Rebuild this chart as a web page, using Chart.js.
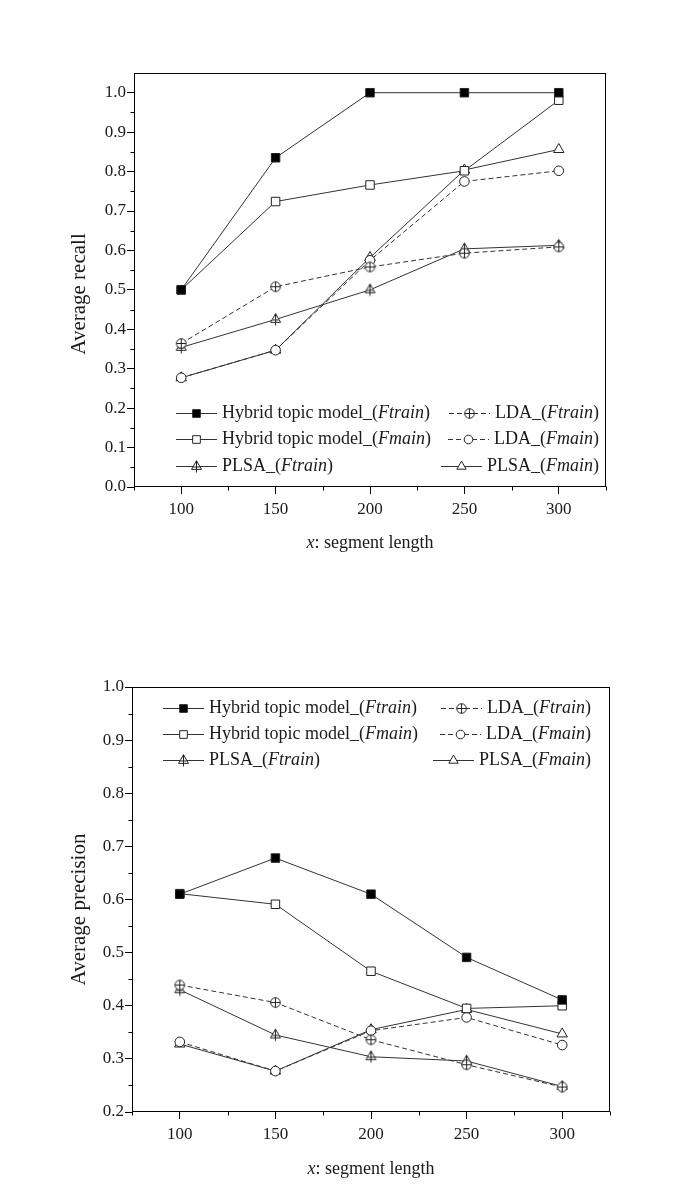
<!DOCTYPE html>
<html>
<head>
<meta charset="utf-8">
<script src="https://cdn.jsdelivr.net/npm/chart.js@4.4.0/dist/chart.umd.min.js"></script>
<style>
  html, body { margin: 0; padding: 0; background: #ffffff; }
  body { width: 691px; height: 1198px; position: relative; overflow: hidden; }
  .wrap { position: absolute; left: 0; width: 691px; }
  canvas { display: block; }
</style>
</head>
<body>
<div class="wrap" style="top:0px;height:600px"><canvas id="recallChart" width="691" height="600"></canvas></div>
<div class="wrap" style="top:600px;height:598px"><canvas id="precisionChart" width="691" height="598"></canvas></div>
<script>
// ---------------- DATA ----------------
const segmentLengths = [100, 150, 200, 250, 300];
const xTickValues = [100, 150, 200, 250, 300];
const recallTickValues = [0.0, 0.1, 0.2, 0.3, 0.4, 0.5, 0.6, 0.7, 0.8, 0.9, 1.0];
const precisionTickValues = [0.2, 0.3, 0.4, 0.5, 0.6, 0.7, 0.8, 0.9, 1.0];

const seriesLabels = [
  'Hybrid topic model_(Ftrain)',
  'LDA_(Ftrain)',
  'Hybrid topic model_(Fmain)',
  'LDA_(Fmain)',
  'PLSA_(Ftrain)',
  'PLSA_(Fmain)'
];

// Average recall
const recallHybridFtrain = [0.500, 0.835, 1.000, 1.000, 1.000];
const recallLdaFtrain    = [0.364, 0.508, 0.558, 0.593, 0.609];
const recallHybridFmain  = [0.500, 0.724, 0.766, 0.802, 0.981];
const recallLdaFmain     = [0.277, 0.347, 0.575, 0.775, 0.802];
const recallPlsaFtrain   = [0.354, 0.425, 0.500, 0.604, 0.613];
const recallPlsaFmain    = [0.277, 0.347, 0.582, 0.804, 0.856];

// Average precision
const precisionHybridFtrain = [0.610, 0.678, 0.610, 0.491, 0.411];
const precisionLdaFtrain    = [0.439, 0.406, 0.336, 0.289, 0.247];
const precisionHybridFmain  = [0.611, 0.591, 0.465, 0.395, 0.400];
const precisionLdaFmain     = [0.332, 0.277, 0.353, 0.378, 0.326];
const precisionPlsaFtrain   = [0.430, 0.345, 0.304, 0.296, 0.248];
const precisionPlsaFmain    = [0.328, 0.277, 0.355, 0.393, 0.347];

// ---------------- STYLE ----------------
const FONT = "'Liberation Serif', 'Times New Roman', serif";
const TEXT = '#1a1a1a';
const LINE = '#333333';
const MARK = '#222222';

function makeMarker(kind) {
  const c = document.createElement('canvas');
  c.width = 15; c.height = 15;
  const g = c.getContext('2d');
  const m = 7.5;
  g.strokeStyle = MARK; g.fillStyle = '#ffffff'; g.lineWidth = 1;
  if (kind === 'circlePlus') {
    g.beginPath(); g.arc(m, m, 4.8, 0, Math.PI * 2); g.fill(); g.stroke();
    g.beginPath();
    g.moveTo(m - 4.8, m); g.lineTo(m + 4.8, m);
    g.moveTo(m, m - 4.8); g.lineTo(m, m + 4.8);
    g.stroke();
  } else if (kind === 'trianglePlus') {
    g.beginPath();
    g.moveTo(m, m - 5.8); g.lineTo(m - 5, m + 2.9); g.lineTo(m + 5, m + 2.9); g.closePath();
    g.fill(); g.stroke();
    g.beginPath();
    g.moveTo(m, m - 5.8); g.lineTo(m, m + 6);
    g.moveTo(m - 3.2, m + 0.5); g.lineTo(m + 3.2, m + 0.5);
    g.stroke();
  }
  return c;
}
const circlePlus = makeMarker('circlePlus');
const trianglePlus = makeMarker('trianglePlus');

function pts(arr) { return segmentLengths.map((x, i) => ({ x: x, y: arr[i] })); }

function makeDatasets(v) {
  const base = { borderColor: LINE, borderWidth: 1, pointBorderColor: MARK, pointBorderWidth: 1, fill: false, tension: 0 };
  return [
    Object.assign({}, base, { label: seriesLabels[0], data: pts(v[0]), pointStyle: 'rect', pointRadius: 6, pointBackgroundColor: '#000000' }),
    Object.assign({}, base, { label: seriesLabels[1], data: pts(v[1]), borderDash: [5, 3], pointStyle: circlePlus, pointRadius: 5, pointBackgroundColor: '#ffffff' }),
    Object.assign({}, base, { label: seriesLabels[2], data: pts(v[2]), pointStyle: 'rect', pointRadius: 6, pointBackgroundColor: '#ffffff' }),
    Object.assign({}, base, { label: seriesLabels[3], data: pts(v[3]), borderDash: [5, 3], pointStyle: 'circle', pointRadius: 4.8, pointBackgroundColor: '#ffffff' }),
    Object.assign({}, base, { label: seriesLabels[4], data: pts(v[4]), pointStyle: trianglePlus, pointRadius: 5.8, pointBackgroundColor: '#ffffff' }),
    Object.assign({}, base, { label: seriesLabels[5], data: pts(v[5]), pointStyle: 'triangle', pointRadius: 6, pointBackgroundColor: '#ffffff' })
  ];
}

// ---------------- PLUGINS ----------------
const framePlugin = {
  id: 'frameAndMinor',
  afterDraw(chart, args, opts) {
    const ctx = chart.ctx, a = chart.chartArea;
    const xs = chart.scales.x, ys = chart.scales.y;
    ctx.save();
    ctx.strokeStyle = '#000'; ctx.lineWidth = 1;
    const L = Math.round(a.left) + 0.5, R = Math.round(a.right) - 0.5;
    const T = Math.round(a.top) + 0.5, B = Math.round(a.bottom) - 0.5;
    ctx.strokeRect(L, T, R - L, B - T);
    ctx.beginPath();
    (opts.xMinor || []).forEach(v => {
      const px = Math.round(xs.getPixelForValue(v)) + 0.5;
      ctx.moveTo(px, B); ctx.lineTo(px, B + 4);
    });
    (opts.yMinor || []).forEach(v => {
      const py = Math.round(ys.getPixelForValue(v)) + 0.5;
      ctx.moveTo(L, py); ctx.lineTo(L - 4, py);
    });
    ctx.stroke();
    ctx.restore();
  }
};

const axisTitlesPlugin = {
  id: 'axisTitles',
  afterDraw(chart, args, opts) {
    const ctx = chart.ctx, a = chart.chartArea;
    ctx.save();
    ctx.fillStyle = TEXT; ctx.textBaseline = 'middle'; ctx.textAlign = 'left';
    // x title with italic "x"
    const fI = 'italic ' + opts.xSize + 'px ' + FONT, fN = opts.xSize + 'px ' + FONT;
    ctx.font = fI; const w1 = ctx.measureText(opts.xItalic).width;
    ctx.font = fN; const w2 = ctx.measureText(opts.xRest).width;
    const x = (a.left + a.right) / 2 - (w1 + w2) / 2;
    const y = a.bottom + opts.xOffset;
    ctx.font = fI; ctx.fillText(opts.xItalic, x, y);
    ctx.font = fN; ctx.fillText(opts.xRest, x + w1, y);
    // y title, rotated
    ctx.font = opts.ySize + 'px ' + FONT;
    ctx.translate(opts.yX, (a.top + a.bottom) / 2 + opts.yShift);
    ctx.rotate(-Math.PI / 2);
    ctx.textAlign = 'center';
    ctx.fillText(opts.yText, 0, 0);
    ctx.restore();
  }
};

function labelParts(s) {
  const m = s.match(/^(.*\()(.*)(\).*)$/);
  return m ? [[m[1], false], [m[2], true], [m[3], false]] : [[s, false]];
}

const legendPlugin = {
  id: 'boxLegend',
  afterDatasetsDraw(chart, args, opts) {
    const ctx = chart.ctx, a = chart.chartArea;
    const dsets = chart.data.datasets;
    ctx.save();
    dsets.forEach((ds, i) => {
      const row = Math.floor(i / 2), col = i % 2;
      const y = a.top + opts.rows[row];
      const parts = labelParts(ds.label);
      let tw = 0;
      parts.forEach(p => { ctx.font = (p[1] ? 'italic ' : '') + opts.size + 'px ' + FONT; tw += ctx.measureText(p[0]).width; });
      let lx0, tx;
      if (col === 0) {
        lx0 = a.left + opts.col1;
        tx = lx0 + opts.lineLen + opts.gap;
      } else {
        tx = a.right + opts.col2Right - tw;
        lx0 = tx - opts.gap - opts.lineLen;
      }
      const ly = Math.round(y) + 0.5;
      ctx.strokeStyle = ds.borderColor; ctx.lineWidth = 1;
      ctx.setLineDash(ds.borderDash || []);
      ctx.beginPath(); ctx.moveTo(lx0, ly); ctx.lineTo(lx0 + opts.lineLen, ly); ctx.stroke();
      ctx.setLineDash([]);
      ctx.fillStyle = ds.pointBackgroundColor; ctx.strokeStyle = ds.pointBorderColor;
      Chart.helpers.drawPoint(ctx, { pointStyle: ds.pointStyle, rotation: 0, radius: ds.pointRadius * 0.9, borderWidth: 1 }, lx0 + opts.lineLen / 2, ly);
      ctx.fillStyle = TEXT; ctx.textBaseline = 'middle'; ctx.textAlign = 'left';
      let x = tx;
      parts.forEach(p => {
        ctx.font = (p[1] ? 'italic ' : '') + opts.size + 'px ' + FONT;
        ctx.fillText(p[0], x, y);
        x += ctx.measureText(p[0]).width;
      });
    });
    ctx.restore();
  }
};

function makeOptions(cfg) {
  return {
    responsive: false,
    animation: false,
    events: [],
    layout: { padding: cfg.padding },
    plugins: {
      legend: { display: false },
      tooltip: { enabled: false },
      frameAndMinor: { xMinor: [75, 125, 175, 225, 275, 325], yMinor: cfg.yMinor },
      axisTitles: { xItalic: 'x', xRest: ': segment length', xSize: 18, xOffset: cfg.xTitleOffset,
                    yText: cfg.yTitle, ySize: 21, yX: 79, yShift: cfg.yTitleShift },
      boxLegend: cfg.legend
    },
    scales: {
      x: {
        type: 'linear', min: 75, max: 325,
        afterBuildTicks: s => { s.ticks = xTickValues.map(v => ({ value: v })); },
        afterFit: s => { s.height = 80; },
        grid: { drawOnChartArea: false, drawTicks: true, tickLength: 7, color: '#000', tickColor: '#000' },
        border: { display: false },
        ticks: { font: { family: FONT, size: 17 }, color: TEXT, padding: 5, maxRotation: 0, callback: v => String(v) },
        title: { display: false }
      },
      y: {
        type: 'linear', min: cfg.yMin, max: cfg.yMax,
        afterBuildTicks: s => { s.ticks = cfg.yTicks.map(v => ({ value: v })); },
        afterFit: s => { s.width = cfg.yWidth; },
        grid: { drawOnChartArea: false, drawTicks: true, tickLength: 7, color: '#000', tickColor: '#000' },
        border: { display: false },
        ticks: { font: { family: FONT, size: 17 }, color: TEXT, padding: 1, callback: v => v.toFixed(1) },
        title: { display: false }
      }
    }
  };
}

new Chart(document.getElementById('recallChart'), {
  type: 'line',
  data: { datasets: makeDatasets([recallHybridFtrain, recallLdaFtrain, recallHybridFmain, recallLdaFmain, recallPlsaFtrain, recallPlsaFmain]) },
  options: makeOptions({
    padding: { left: 60, right: 85, top: 73, bottom: 33 },
    yMin: 0, yMax: 1.05, yTicks: recallTickValues, yWidth: 74,
    yMinor: [0.05, 0.15, 0.25, 0.35, 0.45, 0.55, 0.65, 0.75, 0.85, 0.95],
    yTitle: 'Average recall', yTitleShift: 14,
    xTitleOffset: 56,
    legend: { rows: [340, 366, 393], col1: 42, col2Right: -7, lineLen: 41, gap: 5, size: 18 }
  }),
  plugins: [framePlugin, axisTitlesPlugin, legendPlugin]
});

new Chart(document.getElementById('precisionChart'), {
  type: 'line',
  data: { datasets: makeDatasets([precisionHybridFtrain, precisionLdaFtrain, precisionHybridFmain, precisionLdaFmain, precisionPlsaFtrain, precisionPlsaFmain]) },
  options: makeOptions({
    padding: { left: 60, right: 81, top: 87, bottom: 6 },
    yMin: 0.2, yMax: 1.0, yTicks: precisionTickValues, yWidth: 72,
    yMinor: [0.25, 0.35, 0.45, 0.55, 0.65, 0.75, 0.85, 0.95],
    yTitle: 'Average precision', yTitleShift: 10,
    xTitleOffset: 57,
    legend: { rows: [21, 47, 73], col1: 31, col2Right: -19, lineLen: 41, gap: 5, size: 18 }
  }),
  plugins: [framePlugin, axisTitlesPlugin, legendPlugin]
});
</script>
</body>
</html>
